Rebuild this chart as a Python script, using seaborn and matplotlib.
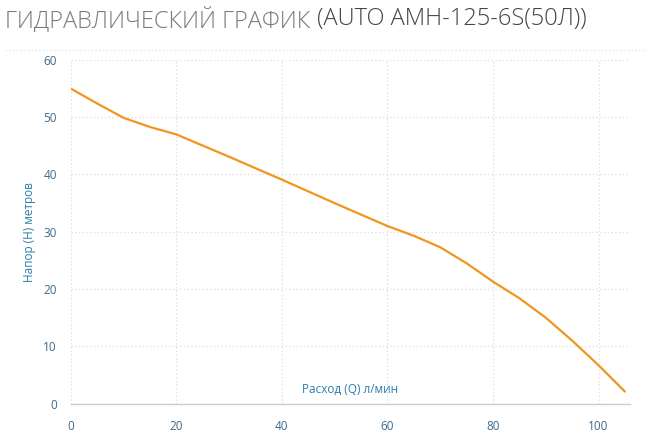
import pandas as pd
import matplotlib.pyplot as plt
import seaborn as sns
from matplotlib.lines import Line2D

# Head curve
flow = [0, 5, 10, 15, 20, 30, 40, 50, 60, 65, 70, 75, 80, 85, 90, 95, 100, 105]
head = [55, 52.4, 49.9, 48.3, 47, 43.1, 39.1, 35, 31, 29.3, 27.3, 24.5, 21.3,
        18.4, 15.0, 11.0, 6.7, 2.1]
x_ticks = [0, 20, 40, 60, 80, 100]
y_ticks = [0, 10, 20, 30, 40, 50, 60]

title_main = 'ГИДРАВЛИЧЕСКИЙ ГРАФИК '
title_model = '(AUTO AMH-125-6S(50Л))'
x_label = 'Расход (Q) л/мин'
y_label = 'Напор (H) метров'

df = pd.DataFrame({'flow': flow, 'head': head})

sns.set_style('white')
plt.rcParams['font.family'] = ['Open Sans', 'DejaVu Sans']

fig = plt.figure(figsize=(6.49, 4.44), dpi=100)
ax = fig.add_axes([0.109, 0.091, 0.862, 0.774])

sns.lineplot(data=df, x='flow', y='head', color='#f0961e', linewidth=1.6, ax=ax)

ax.set_xlim(0, 106)
ax.set_ylim(0, 60)
ax.set_xticks(x_ticks)
ax.set_yticks(y_ticks)
ax.grid(True, linestyle=(0, (1, 2)), color='#dcdcdc', linewidth=0.9)
ax.set_axisbelow(True)

for side in ['top', 'right', 'left']:
    ax.spines[side].set_visible(False)
ax.spines['bottom'].set_color('#cccccc')
ax.spines['bottom'].set_linewidth(1)
ax.tick_params(axis='x', length=6, color='#cccccc', labelcolor='#3d6a8a', labelsize=8.5, pad=6)
ax.tick_params(axis='y', length=0, labelcolor='#3d6a8a', labelsize=8.5, pad=10)

ax.set_xlabel('')
ax.set_ylabel(y_label, color='#2b7ea6', fontsize=8.5, labelpad=5)
ax.text(0.5, 0.022, x_label, transform=ax.transAxes, ha='center', va='bottom',
        color='#2b7ea6', fontsize=8.5)

# title in two shades
t1 = fig.text(0.008, 0.985, title_main, ha='left', va='top', fontsize=17,
              color='#7a7a7a', fontweight='light')
fig.canvas.draw()
bb = t1.get_window_extent()
x2 = bb.x1 / fig.bbox.width
fig.text(x2, 0.985, title_model, ha='left', va='top', fontsize=17,
         color='#444444', fontweight='light')

# dotted separator under the title
fig.add_artist(Line2D([0.008, 0.992], [0.887, 0.887], transform=fig.transFigure,
                      color='#e0e0e0', linestyle=(0, (1, 2)), linewidth=0.9))

plt.savefig('out.png', dpi=100)
